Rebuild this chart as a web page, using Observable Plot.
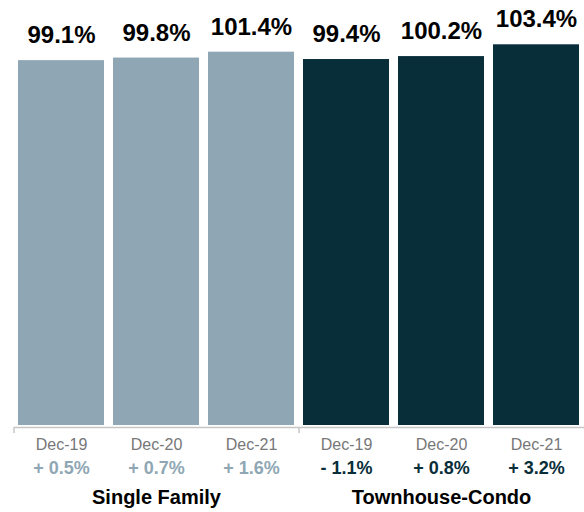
<!DOCTYPE html>
<html>
<head>
<meta charset="utf-8">
<script src="https://cdn.jsdelivr.net/npm/d3@7"></script>
<script src="https://cdn.jsdelivr.net/npm/@observablehq/plot@0.6"></script>
<style>
  html, body { margin: 0; padding: 0; background: #fff; }
  #chart svg { display: block; }
</style>
</head>
<body>
<div id="chart"></div>
<script>
const groups = ["Single Family", "Single Family", "Single Family", "Townhouse-Condo", "Townhouse-Condo", "Townhouse-Condo"];
const periods = ["Dec-19", "Dec-20", "Dec-21", "Dec-19", "Dec-20", "Dec-21"];
const values = [99.1, 99.8, 101.4, 99.4, 100.2, 103.4];
const changes = ["+ 0.5%", "+ 0.7%", "+ 1.6%", "- 1.1%", "+ 0.8%", "+ 3.2%"];
const groupColors = {"Single Family": "#8fa7b4", "Townhouse-Condo": "#082e39"};

const data = values.map((v, i) => ({
  key: groups[i] + "|" + periods[i],
  group: groups[i],
  period: periods[i],
  value: v,
  change: changes[i]
}));
const keys = data.map(d => d.key);
const groupNames = [...new Set(groups)];
const groupMid = groupNames.map(g => {
  const ks = data.filter(d => d.group === g).map(d => d.key);
  return {group: g, key: ks[Math.floor(ks.length / 2)]};
});
const groupStarts = groupNames.map(g => data.find(d => d.group === g).key);

const font = "'Liberation Sans', Arial, Helvetica, sans-serif";
const step = 95;

const chart = Plot.plot({
  width: 584,
  height: 512,
  marginLeft: 14,
  marginRight: 0,
  marginTop: 20,
  marginBottom: 87,
  style: {fontFamily: font, background: "#fff"},
  x: {domain: keys, paddingInner: 0.09, paddingOuter: 0.045, axis: null},
  y: {domain: [0, 110], axis: null},
  color: {domain: Object.keys(groupColors), range: Object.values(groupColors)},
  marks: [
    Plot.barY(data, {x: "key", y: "value", fill: d => groupColors[d.group]}),
    Plot.ruleY([0], {stroke: "#c6c6c6", strokeWidth: 1.5, dy: 2}),
    Plot.ruleX(groupStarts, {x: d => d, y1: 0, y2: 0, dx: -step / 2, insetTop: 2, insetBottom: -8, stroke: "#c6c6c6", strokeWidth: 1.5}),
    Plot.text(data, {x: "key", y: "value", text: d => d.value.toFixed(1) + "%", dy: -25, fontSize: 24, fontWeight: "bold", fill: "#000"}),
    Plot.text(data, {x: "key", y: 0, text: "period", dy: 19, fontSize: 16, fill: "#777"}),
    Plot.text(data, {x: "key", y: 0, text: "change", dy: 43, fontSize: 18, fontWeight: "bold", fill: d => groupColors[d.group]}),
    Plot.text(groupMid, {x: "key", y: 0, text: "group", dy: 72.5, fontSize: 20, fontWeight: "bold", fill: "#000"})
  ]
});
document.getElementById("chart").appendChild(chart);
</script>
</body>
</html>
